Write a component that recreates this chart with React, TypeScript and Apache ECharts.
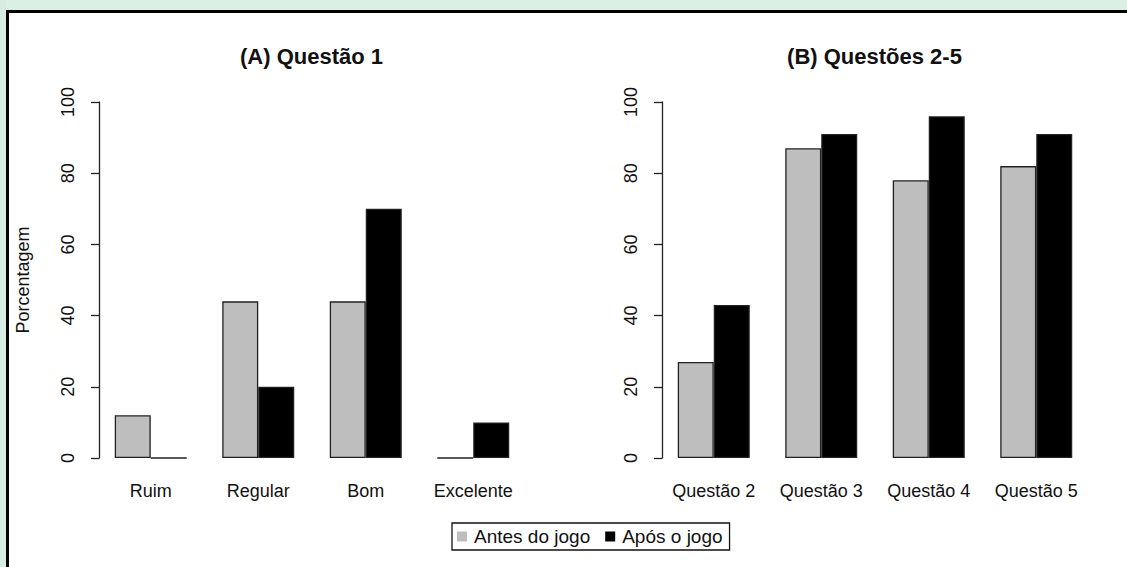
import React, { useEffect, useRef } from "react";
import * as echarts from "echarts";

const categoriesA = ["Ruim", "Regular", "Bom", "Excelente"];
const antesA = [12, 44, 44, 0];
const aposA = [0, 20, 70, 10];

const categoriesB = ["Questão 2", "Questão 3", "Questão 4", "Questão 5"];
const antesB = [27, 87, 78, 82];
const aposB = [43, 91, 96, 91];

const seriesNames = ["Antes do jogo", "Após o jogo"];
const seriesColors = ["#bebebe", "#000000"];
const titles = ["(A) Questão 1", "(B) Questões 2-5"];
const yLabel = "Porcentagem";

const FONT = "'Liberation Sans', Arial, sans-serif";

export default function App() {
  const ref = useRef<HTMLDivElement>(null);
  useEffect(() => {
    if (!ref.current) return;
    const chart = echarts.init(ref.current, null, { renderer: "svg" });
    const gridTop = 102;
    const gridH = 356;
    const yAxisBase = (gi: number) => ({
      type: "value",
      gridIndex: gi,
      min: 0,
      max: 100,
      interval: 20,
      offset: -2,
      splitLine: { show: false },
      axisLine: { show: true, lineStyle: { color: "#222", width: 1.3 } },
      axisTick: { show: true, length: 8, lineStyle: { color: "#222", width: 1.3 } },
      axisLabel: { rotate: 90, fontSize: 18, color: "#111", fontFamily: FONT, margin: 22 },
    });
    const xAxisBase = (gi: number, data: string[]) => ({
      type: "category",
      gridIndex: gi,
      data,
      axisLine: { show: false },
      axisTick: { show: false },
      axisLabel: { fontSize: 18, color: "#111", fontFamily: FONT, margin: 24, interval: 0 },
    });
    const barBase = (name: string, color: string, gi: number, data: number[]) => ({
      type: "bar",
      name,
      xAxisIndex: gi,
      yAxisIndex: gi,
      data,
      barWidth: 36,
      barGap: "0%",
      itemStyle: { color, borderColor: "#222", borderWidth: 1.3 },
    });
    chart.setOption({
      animation: false,
      backgroundColor: "#ffffff",
      title: [
        {
          text: titles[0],
          left: 311.5,
          top: 45,
          textAlign: "center",
          padding: 0,
          textStyle: { fontSize: 22, fontWeight: "bold", color: "#111", fontFamily: FONT },
        },
        {
          text: titles[1],
          left: 874.5,
          top: 45,
          textAlign: "center",
          padding: 0,
          textStyle: { fontSize: 22, fontWeight: "bold", color: "#111", fontFamily: FONT },
        },
      ],
      legend: {
        data: seriesNames,
        left: 452,
        top: 523,
        orient: "horizontal",
        icon: "rect",
        itemWidth: 10,
        itemHeight: 10,
        itemGap: 15,
        padding: [4, 7, 4, 5],
        borderColor: "#111",
        borderWidth: 1.3,
        borderRadius: 0,
        selectedMode: false,
        itemStyle: { borderWidth: 0 },
        textStyle: { fontSize: 19, color: "#111", fontFamily: FONT, padding: [0, 0, 0, 2] },
      },
      grid: [
        { left: 97, top: gridTop, width: 430, height: gridH },
        { left: 660, top: gridTop, width: 430, height: gridH },
      ],
      xAxis: [xAxisBase(0, categoriesA), xAxisBase(1, categoriesB)],
      yAxis: [yAxisBase(0), yAxisBase(1)],
      series: [
        barBase(seriesNames[0], seriesColors[0], 0, antesA),
        barBase(seriesNames[1], seriesColors[1], 0, aposA),
        barBase(seriesNames[0], seriesColors[0], 1, antesB),
        barBase(seriesNames[1], seriesColors[1], 1, aposB),
      ],
      graphic: [
        { type: "rect", z: -10, shape: { x: 0, y: 0, width: 1127, height: 10 }, style: { fill: "#dcefe5" }, silent: true },
        { type: "rect", z: -10, shape: { x: 0, y: 0, width: 6, height: 567 }, style: { fill: "#d6ece0" }, silent: true },
        { type: "rect", z: 10, shape: { x: 6, y: 10, width: 1121, height: 3 }, style: { fill: "#000" }, silent: true },
        { type: "rect", z: 10, shape: { x: 6, y: 10, width: 3, height: 557 }, style: { fill: "#000" }, silent: true },
        {
          type: "text",
          x: 23,
          y: 280,
          rotation: Math.PI / 2,
          style: {
            text: yLabel,
            fontSize: 18,
            fontFamily: FONT,
            fill: "#111",
            textAlign: "center",
            textVerticalAlign: "middle",
          },
        },
      ],
    });
    return () => chart.dispose();
  }, []);
  return (
    <div
      ref={ref}
      style={{ position: "fixed", left: 0, top: 0, width: 1127, height: 567 }}
    />
  );
}
